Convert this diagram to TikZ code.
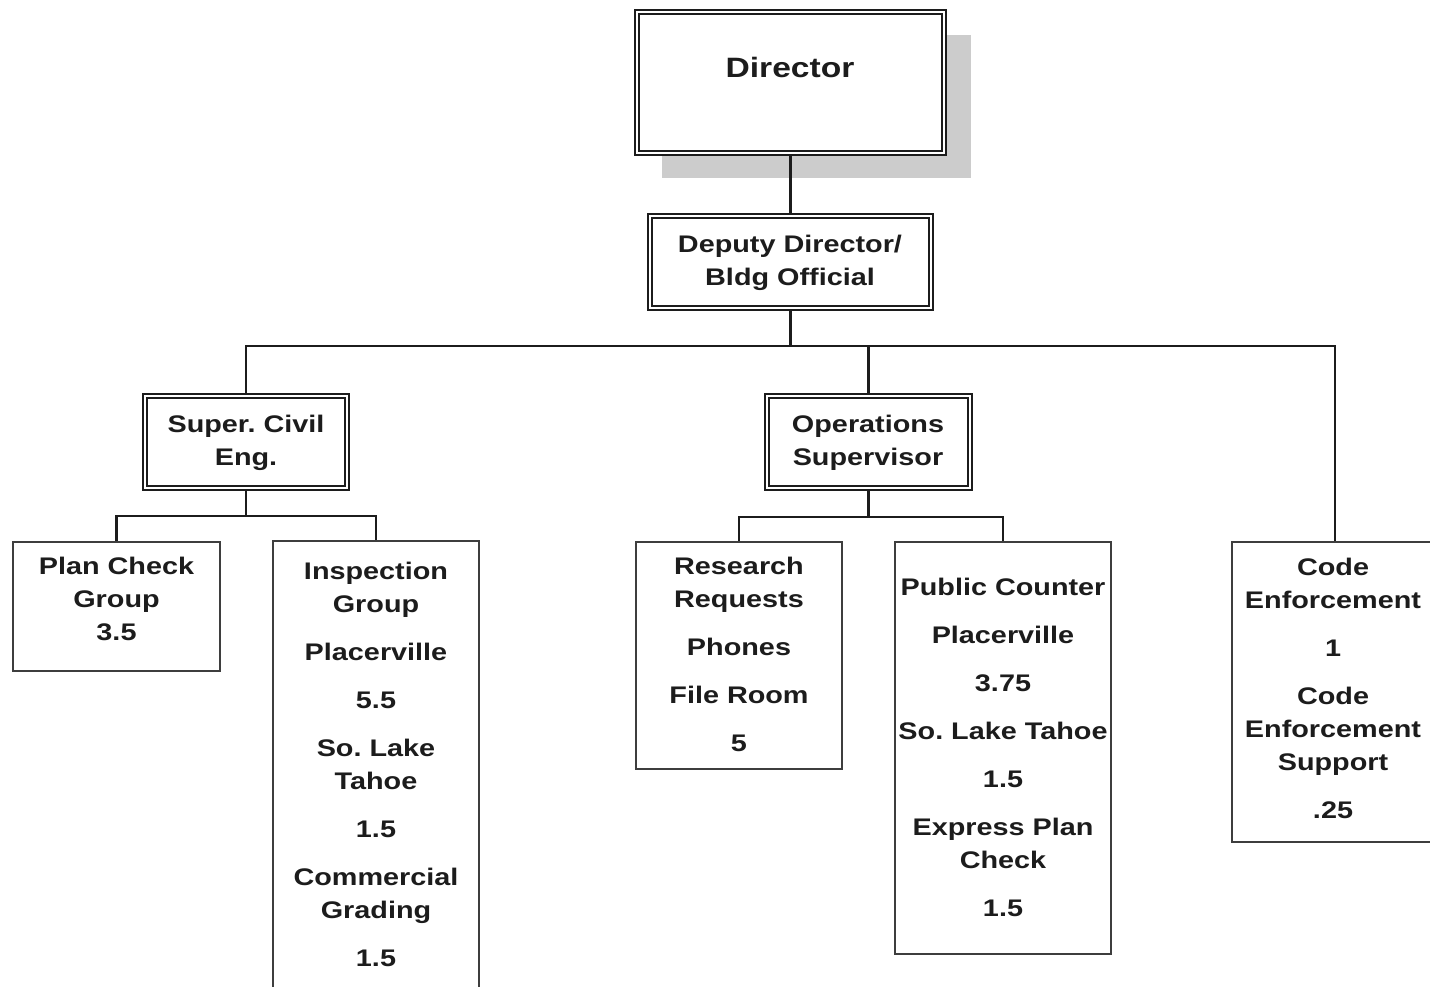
\documentclass[tikz,border=0pt]{standalone}
\usepackage{fontspec}
\newfontfamily\labfont[FakeStretch=1.2]{Liberation Sans}
\usetikzlibrary{backgrounds}
\definecolor{shadowgray}{RGB}{204,204,204}
\definecolor{ink}{RGB}{28,28,28}
\begin{document}
\frenchspacing
\begin{tikzpicture}[x=1pt,y=-1pt,
  boxa/.style={draw=ink, line width=1.5pt, double=white, double distance=2.5pt, fill=white, rectangle, inner sep=0pt},
  boxb/.style={draw=ink!85, line width=2pt, fill=white, rectangle, inner sep=0pt},
  lab/.style={font=\labfont\bfseries\fontsize{24}{33}\selectfont\frenchspacing, align=center, inner sep=0pt, text=ink},
  bigl/.style={font=\labfont\bfseries\fontsize{28}{34}\selectfont, align=center, inner sep=0pt, text=ink},
  conn/.style={line width=2.8pt, draw=ink}]
\useasboundingbox (0,0) rectangle (1430,986);

% boxes
\node[boxa, minimum width=307pt, minimum height=141pt] (dir) at (790.5,82.5) {};
\node[boxa, minimum width=281pt, minimum height=92pt] (dep) at (790.5,262) {};
\node[boxa, minimum width=202pt, minimum height=92pt] (sce) at (246,442) {};
\node[boxa, minimum width=203pt, minimum height=92pt] (ops) at (868.5,442) {};
\node[boxb, minimum width=207pt, minimum height=129pt] (plan) at (116.5,606.5) {};
\node[boxb, minimum width=206pt, minimum height=459pt] (insp) at (376,770.5) {};
\node[boxb, minimum width=206pt, minimum height=227pt] (res) at (739,655.5) {};
\node[boxb, minimum width=216pt, minimum height=412pt] (pub) at (1003,748) {};
\node[boxb, minimum width=206pt, minimum height=300pt] (cod) at (1335,692) {};

% texts
\node[bigl] (dirT) at (790,67) {Director};
\node[lab] (depT) at (790,263) {Deputy Director/\\Bldg Official};
\node[lab] (sceT) at (246,443) {Super. Civil\\Eng.};
\node[lab] (opsT) at (868,443) {Operations\\Supervisor};
\node[lab] (planT) at (116.5,598.5) {Plan Check\\Group\\3.5};
\node[lab] (inspT) at (376,764.5) {Inspection\\Group\\[15pt]Placerville\\[15pt]5.5\\[15pt]So. Lake\\Tahoe\\[15pt]1.5\\[15pt]Commercial\\Grading\\[15pt]1.5};
\node[lab] (resT) at (739,654) {Research\\Requests\\[15pt]Phones\\[15pt]File Room\\[15pt]5};
\node[lab] (pubT) at (1003,747) {Public Counter\\[15pt]Placerville\\[15pt]3.75\\[15pt]So. Lake Tahoe\\[15pt]1.5\\[15pt]Express Plan\\Check\\[15pt]1.5};
\node[lab] (codT) at (1333,688) {Code\\Enforcement\\[15pt]1\\[15pt]Code\\Enforcement\\Support\\[15pt].25};

\coordinate (bus) at (790.5,346);
\coordinate (sbus) at (246,516);
\coordinate (obus) at (868.5,517);

\begin{pgfonlayer}{background}
  \fill[shadowgray] ([shift={(26,24)}]dir.south west) rectangle ([shift={(26,24)}]dir.north east);
  \draw[conn] (dir.south) -- (dep.north);
  \draw[conn] (dep.south) -- (bus);
  \draw[conn] (sce.north) |- (bus) -| (cod.north);
  \draw[conn] (bus) -| (ops.north);
  \draw[conn] (sce.south) -- (sbus);
  \draw[conn] (plan.north) |- (sbus) -| (insp.north);
  \draw[conn] (ops.south) -- (obus);
  \draw[conn] (res.north) |- (obus) -| (pub.north);
\end{pgfonlayer}
\end{tikzpicture}
\end{document}
